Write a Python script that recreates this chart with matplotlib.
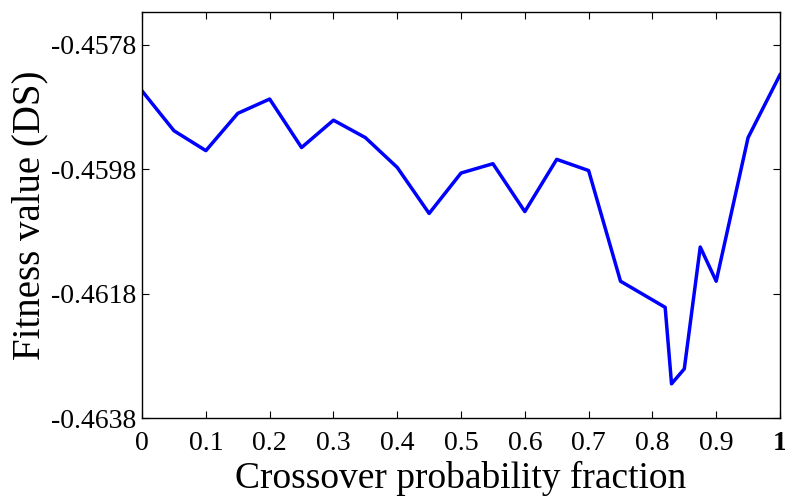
import matplotlib.pyplot as plt
import numpy as np

# crossover probability vs. fitness value
crossover = [0.0, 0.05, 0.1, 0.15, 0.2, 0.25, 0.3, 0.35, 0.4, 0.45, 0.5, 0.55,
             0.6, 0.65, 0.7, 0.75, 0.82, 0.83, 0.85, 0.875, 0.9, 0.95, 1.0]
fitness = [-0.45854, -0.45918, -0.45950, -0.45890, -0.45867, -0.45945, -0.45901,
           -0.45929, -0.45977, -0.46051, -0.45986, -0.45971, -0.46048, -0.45964,
           -0.45982, -0.46160, -0.46202, -0.46325, -0.46301, -0.46105, -0.46160,
           -0.45929, -0.45828]

xticks = [0, 0.1, 0.2, 0.3, 0.4, 0.5, 0.6, 0.7, 0.8, 0.9, 1]
xticklabels = ['0', '0.1', '0.2', '0.3', '0.4', '0.5', '0.6', '0.7', '0.8', '0.9', '1']
yticks = [-0.4638, -0.4618, -0.4598, -0.4578]
yticklabels = ['-0.4638', '-0.4618', '-0.4598', '-0.4578']

plt.rcParams['font.family'] = ['Liberation Serif', 'DejaVu Serif']

fig = plt.figure(figsize=(7.85, 5.0), dpi=100)
ax = fig.add_axes([0.181, 0.164, 0.8126, 0.812])

ax.plot(crossover, fitness, color='#0000ff', linewidth=2.5)

ax.set_xlim(0, 1)
ax.set_ylim(-0.4638, -0.45727)
ax.set_xticks(xticks)
ax.set_xticklabels(xticklabels)
ax.set_yticks(yticks)
ax.set_yticklabels(yticklabels)
ax.get_xticklabels()[-1].set_fontweight('bold')

ax.tick_params(direction='in', length=5, width=0.8, top=True, right=True,
               labelsize=20)
ax.tick_params(axis='x', pad=9)
ax.tick_params(axis='y', pad=4)
for s in ax.spines.values():
    s.set_linewidth(1.0)

ax.set_xlabel('Crossover probability fraction', fontsize=27, labelpad=4)
ax.set_ylabel('Fitness value (DS)', fontsize=28, labelpad=2)

fig.savefig('out.png', dpi=100)
